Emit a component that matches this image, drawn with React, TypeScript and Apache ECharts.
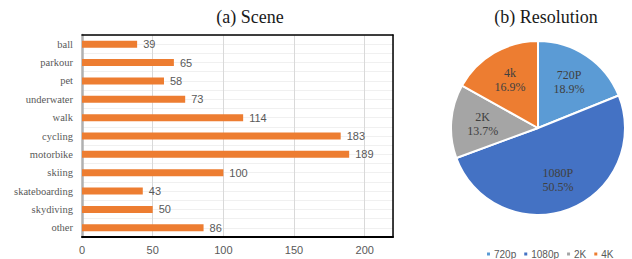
import React, { useEffect, useRef } from "react";
import * as echarts from "echarts";

const sceneCategories = ["ball", "parkour", "pet", "underwater", "walk", "cycling", "motorbike", "skiing", "skateboarding", "skydiving", "other"];
const sceneValues = [39, 65, 58, 73, 114, 183, 189, 100, 43, 50, 86];
const xTicks = [0, 50, 100, 150, 200];

const resNames = ["720p", "1080p", "2K", "4K"];
const resLabels = ["720P", "1080P", "2K", "4k"];
const resPercents = [18.9, 50.5, 13.7, 16.9];
const resColors = ["#5B9BD5", "#4472C4", "#A5A5A5", "#ED7D31"];

const SERIF = "'Times New Roman', 'Liberation Serif', serif";
const SANS = "Arial, 'Liberation Sans', sans-serif";

export default function App() {
  const ref = useRef<HTMLDivElement>(null);
  useEffect(() => {
    document.body.style.margin = "0";
    const chart = echarts.init(ref.current!, null, { renderer: "svg" });
    const pieData = resNames.map((n, i) => ({ name: n, value: resPercents[i], itemStyle: { color: resColors[i] } }));
    chart.setOption({
      animation: false,
      backgroundColor: "#fff",
      title: [
        { text: "(a) Scene", left: 245, top: 3, textAlign: "center", textStyle: { fontFamily: SERIF, fontSize: 18, fontWeight: "normal", color: "#1a1a1a" } },
        { text: "(b) Resolution", left: 541, top: 3, textAlign: "center", textStyle: { fontFamily: SERIF, fontSize: 18, fontWeight: "normal", color: "#1a1a1a" } },
      ],
      grid: { left: 82, right: 239, top: 35, bottom: 22, show: false },
      xAxis: [
        {
          type: "value", min: 0, max: 220, interval: 50,
          axisLine: { show: true, lineStyle: { color: "#000", width: 2 } },
          axisTick: { show: false },
          axisLabel: {
            margin: 7, color: "#595959", fontFamily: SANS, fontSize: 11,
            formatter: (v: number) => (xTicks.includes(v) ? String(v) : ""),
          },
          splitLine: { show: true, lineStyle: { color: "#D9D9D9", width: 1 } },
        },
        {
          type: "value", min: 0, max: 220, interval: 50, position: "top",
          axisLine: { show: true, onZero: false, lineStyle: { color: "#000", width: 1.5 } },
          axisTick: { show: false }, axisLabel: { show: false }, splitLine: { show: false },
        },
      ],
      yAxis: [
        {
          type: "category", data: sceneCategories, inverse: true,
          axisLine: { show: true, lineStyle: { color: "#B0B0B0", width: 2.5 } },
          axisTick: { show: false },
          axisLabel: { margin: 9, color: "#595959", fontFamily: SERIF, fontSize: 10.5 },
          splitLine: { show: false },
        },
        {
          type: "value", min: 0, max: 22, interval: 1, position: "right",
          axisLine: { show: true, onZero: false, lineStyle: { color: "#000", width: 1.5 } },
          axisTick: { show: false }, axisLabel: { show: false },
          splitLine: { show: true, lineStyle: { color: "#F0F0F0", width: 1 } },
        },
      ],
      legend: {
        data: resNames, left: 480, top: 244, icon: "rect", itemWidth: 5, itemHeight: 5, itemGap: 6,
        textStyle: { color: "#595959", fontFamily: SANS, fontSize: 10, padding: [0, 0, 0, -2] },
      },
      series: [
        {
          type: "bar", data: sceneValues, xAxisIndex: 0, yAxisIndex: 0, barWidth: 7,
          itemStyle: { color: "#ED7D31" },
          label: { show: true, position: "right", distance: 6, color: "#595959", fontFamily: SANS, fontSize: 11 },
        },
        {
          type: "pie", center: [538, 128], radius: 87, startAngle: 90, clockwise: true,
          data: pieData,
          itemStyle: { borderColor: "#fff", borderWidth: 2 },
          label: { show: false }, labelLine: { show: false },
        },
        {
          type: "pie", center: [538, 128], radius: [18, 87], startAngle: 90, clockwise: true, silent: true,
          data: resNames.map((n, i) => ({ name: n, value: resPercents[i], itemStyle: { color: "transparent" } })),
          label: {
            show: true, position: "inside", color: "#404040", fontFamily: SERIF, fontSize: 12, lineHeight: 14,
            formatter: (p: any) => `${resLabels[p.dataIndex]}\n${resPercents[p.dataIndex].toFixed(1)}%`,
          },
          labelLine: { show: false },
        },
      ],
    });
    return () => chart.dispose();
  }, []);
  return <div ref={ref} style={{ width: 632, height: 259 }} />;
}
